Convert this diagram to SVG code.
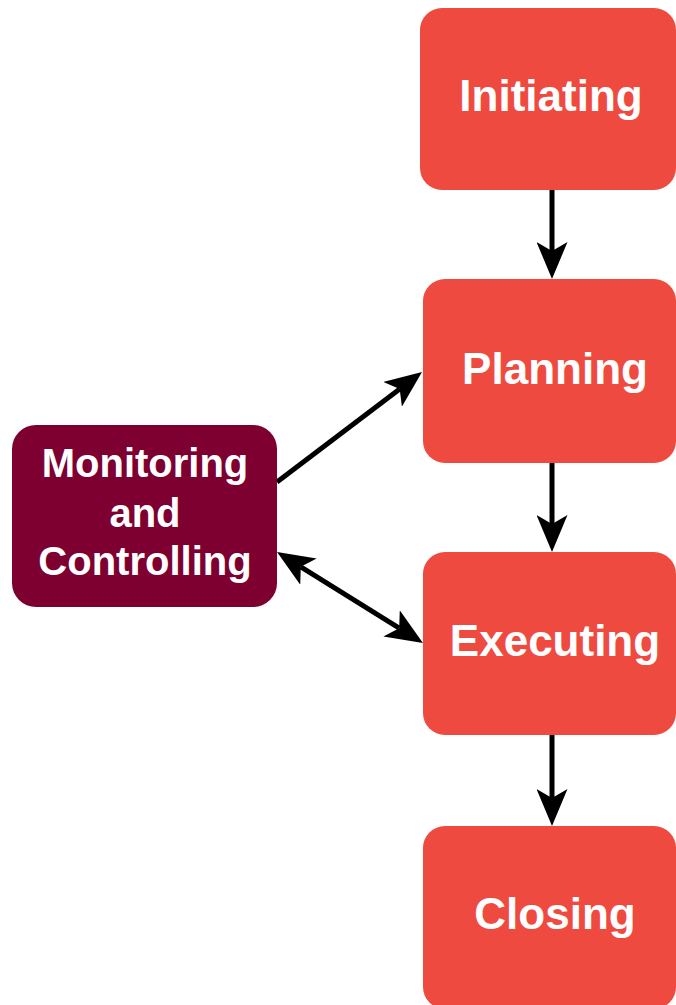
<svg xmlns="http://www.w3.org/2000/svg" width="676" height="1005" viewBox="0 0 676 1005">
<style>
.red{fill:#EF4A3F}
.mar{fill:#7D0030}
.lbl{font-family:"Liberation Sans",Arial,sans-serif;font-weight:bold;fill:#FFFFFF;text-anchor:middle}
.big{font-size:44px}
.mid{font-size:40px}
.conn{stroke:#000000;stroke-width:5;fill:none}
</style>
<defs>
<marker id="ah" markerUnits="userSpaceOnUse" viewBox="0 0 37 31" markerWidth="37" markerHeight="31" refX="9" refY="15.5" orient="auto-start-reverse">
<path d="M0,0 L37,15.5 L0,31 L9,15.5 Z" fill="#000000"/>
</marker>
</defs>
<rect width="676" height="1005" fill="#FFFFFF"/>
<g id="connectors">
<line class="conn" x1="552" y1="190" x2="552" y2="251" marker-end="url(#ah)"/>
<line class="conn" x1="552" y1="463" x2="552" y2="524" marker-end="url(#ah)"/>
<line class="conn" x1="552" y1="735" x2="552" y2="798" marker-end="url(#ah)"/>
<line class="conn" x1="277" y1="482" x2="399.7" y2="388.9" marker-end="url(#ah)"/>
<line class="conn" x1="300.8" y1="566.8" x2="399.2" y2="628.2" marker-start="url(#ah)" marker-end="url(#ah)"/>
</g>
<g id="initiating">
<rect class="red" x="420" y="8" width="256" height="182" rx="22"/>
<text class="lbl big" x="551" y="111">Initiating</text>
</g>
<g id="planning">
<rect class="red" x="423" y="279" width="253" height="184" rx="22"/>
<text class="lbl big" x="555" y="384">Planning</text>
</g>
<g id="executing">
<rect class="red" x="423" y="552" width="253" height="183" rx="22"/>
<text class="lbl big" x="555" y="656">Executing</text>
</g>
<g id="closing">
<rect class="red" x="423" y="826" width="253" height="183" rx="22"/>
<text class="lbl big" x="555" y="929">Closing</text>
</g>
<g id="monitoring">
<rect class="mar" x="12" y="425" width="265" height="182" rx="24"/>
<text class="lbl mid" x="145" y="477">Monitoring</text>
<text class="lbl mid" x="145" y="527">and</text>
<text class="lbl mid" x="145" y="575">Controlling</text>
</g>
</svg>
